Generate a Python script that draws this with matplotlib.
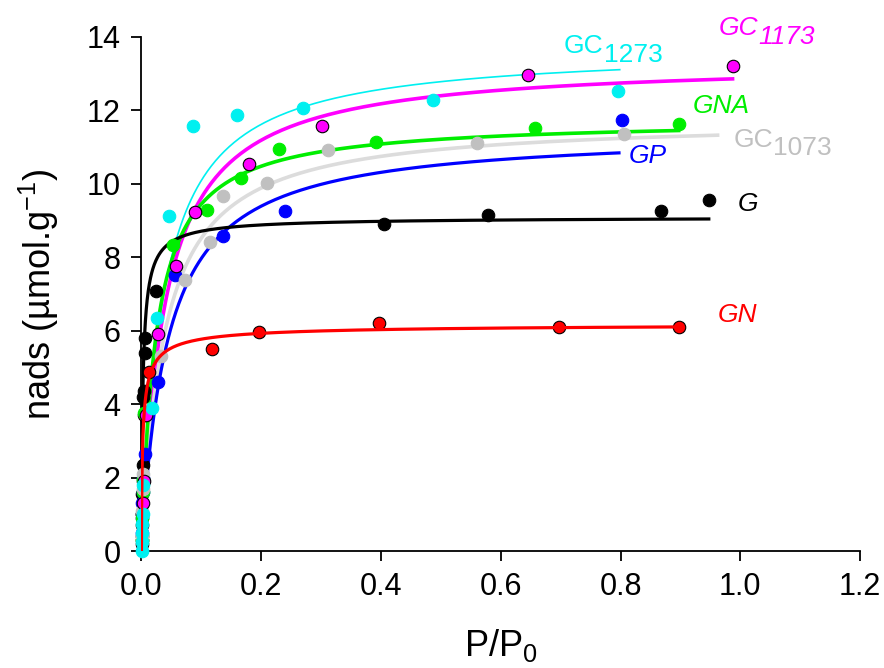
import numpy as np
import matplotlib
matplotlib.use('Agg')
import matplotlib.pyplot as plt

plt.rcParams['font.family'] = ['Liberation Sans', 'DejaVu Sans']
plt.rcParams['mathtext.fontset'] = 'custom'
plt.rcParams['mathtext.rm'] = 'Liberation Sans'
plt.rcParams['mathtext.it'] = 'Liberation Sans:italic'

# measured points (P/P0, n_ads)
g_x = [0.0005, 0.001, 0.0015, 0.002, 0.0025, 0.004, 0.006, 0.006, 0.024, 0.405, 0.578, 0.868, 0.948]
g_y = [0.3, 1.0, 1.55, 2.35, 4.2, 4.35, 5.4, 5.8, 7.08, 8.90, 9.14, 9.26, 9.55]

gn_x = [0.0005, 0.001, 0.002, 0.004, 0.012, 0.118, 0.197, 0.397, 0.698, 0.898]
gn_y = [0.4, 1.0, 1.9, 3.7, 4.87, 5.50, 5.95, 6.20, 6.09, 6.09]

gp_x = [0.0005, 0.001, 0.0015, 0.002, 0.003, 0.0067, 0.028, 0.0557, 0.136, 0.240, 0.802]
gp_y = [0.5, 0.9, 1.3, 1.6, 2.0, 2.64, 4.61, 7.52, 8.58, 9.25, 11.74]

gna_x = [0.0005, 0.001, 0.002, 0.003, 0.004, 0.053, 0.110, 0.166, 0.230, 0.392, 0.657, 0.898]
gna_y = [0.3, 0.9, 1.6, 1.95, 3.75, 8.32, 9.29, 10.15, 10.94, 11.13, 11.52, 11.63]

gc1073_x = [0.0005, 0.001, 0.002, 0.003, 0.033, 0.0735, 0.114, 0.136, 0.209, 0.311, 0.56, 0.805]
gc1073_y = [0.4, 1.1, 1.7, 2.1, 5.3, 7.37, 8.41, 9.67, 10.02, 10.91, 11.11, 11.34]

gc1173_x = [0.0005, 0.001, 0.002, 0.004, 0.008, 0.028, 0.057, 0.090, 0.179, 0.301, 0.645, 0.987]
gc1173_y = [0.2, 0.7, 1.3, 1.9, 3.7, 5.9, 7.77, 9.23, 10.54, 11.56, 12.95, 13.2]

gc1273_x = [0.0003, 0.0006, 0.001, 0.0015, 0.002, 0.003, 0.017, 0.026, 0.0456, 0.086, 0.160, 0.269, 0.487, 0.796]
gc1273_y = [0.0, 0.25, 0.5, 0.75, 1.0, 1.8, 3.9, 6.35, 9.13, 11.56, 11.86, 12.06, 12.27, 12.52]

# fitted isotherm parameters (qmax, K, n) and fit range end
fit_qm = [13.69, 13.36, 11.77, 11.76, 11.43, 9.1, 6.2]
fit_k = [28.0, 25.7, 26.2, 40.8, 23.0, 384.0, 407.0]
fit_n = [1.0, 1.0, 1.0, 1.0, 1.0, 0.85, 0.7]
fit_end = [0.8, 0.99, 0.965, 0.9, 0.8, 0.95, 0.9]

series = [
    (gc1273_x, gc1273_y, '#00f0f0', '#00f0f0', '#00f0f0', 1.2),
    (gc1173_x, gc1173_y, '#ff00ff', 'black', '#ff00ff', 2.6),
    (gc1073_x, gc1073_y, '#c0c0c0', '#c0c0c0', '#dcdcdc', 2.6),
    (gna_x, gna_y, '#00ee00', '#00ee00', '#00ee00', 2.6),
    (gp_x, gp_y, '#0000ff', '#0000ff', '#0000ff', 2.3),
    (g_x, g_y, 'black', 'black', 'black', 2.3),
    (gn_x, gn_y, '#ff0000', 'black', '#ff0000', 2.3),
]

fig = plt.figure(figsize=(8.84, 6.68), dpi=100)
ax = fig.add_axes([0.160, 0.175, 0.813, 0.770])

for i, (xs, ys, fc, ec, lc, lw) in enumerate(series):
    # cyan points end up on top of the low-pressure cluster
    ax.plot(xs, ys, 'o', ms=9, mfc=fc, mec=ec, mew=0.8, zorder=3.9 - i * 0.1, clip_on=False)
    p = np.concatenate([[0], np.geomspace(1e-5, fit_end[i], 400)])
    kp = (fit_k[i] * p) ** fit_n[i]
    q = fit_qm[i] * kp / (1 + kp)
    ax.plot(p, q, color=lc, lw=lw, zorder=4 if i == 6 else 2, solid_capstyle='butt')

ax.set_xlim(0, 1.2)
ax.set_ylim(0, 14)
ax.set_xticks(np.arange(0, 1.21, 0.2))
ax.set_xticklabels(['0.0', '0.2', '0.4', '0.6', '0.8', '1.0', '1.2'])
ax.set_yticks(np.arange(0, 15, 2))
ax.tick_params(labelsize=22, length=7, width=1.3, direction='out', pad=8)
for s in ['top', 'right']:
    ax.spines[s].set_visible(False)
for s in ['left', 'bottom']:
    ax.spines[s].set_linewidth(1.3)

ax.set_xlabel('P/P$_0$', fontsize=26, labelpad=18)
ax.set_ylabel('nads (µmol.g$^{-1}$)', fontsize=26, labelpad=18)

fs = 19
ax.text(0.705, 13.57, 'GC', color='#00f0f0', fontsize=fs)
ax.text(0.772, 13.32, '1273', color='#00f0f0', fontsize=fs)
ax.text(0.964, 14.06, 'GC', color='#ff00ff', fontsize=fs, style='italic')
ax.text(1.030, 13.79, '1173', color='#ff00ff', fontsize=fs, style='italic')
ax.text(0.921, 11.93, 'GNA', color='#00ee00', fontsize=fs, style='italic')
ax.text(0.988, 11.01, 'GC', color='#c0c0c0', fontsize=fs)
ax.text(1.055, 10.79, '1073', color='#c0c0c0', fontsize=fs)
ax.text(0.813, 10.57, 'GP', color='#0000ff', fontsize=fs, style='italic')
ax.text(0.995, 9.26, 'G', color='black', fontsize=fs, style='italic')
ax.text(0.963, 6.24, 'GN', color='#ff0000', fontsize=fs, style='italic')

fig.savefig('out.png', dpi=100, facecolor='white')
